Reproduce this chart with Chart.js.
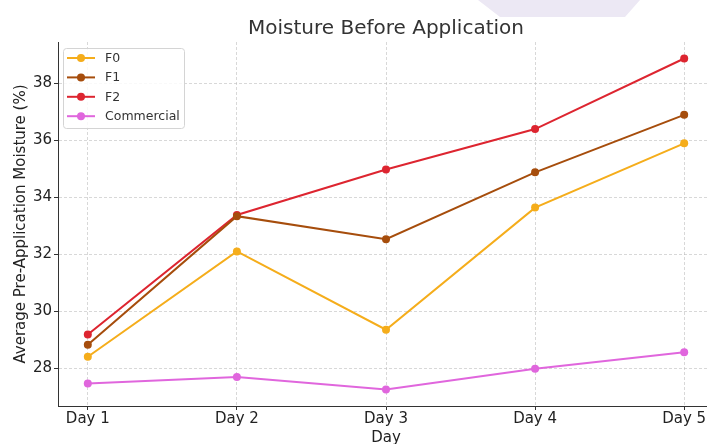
<!DOCTYPE html>
<html><head><meta charset="utf-8">
<script src="https://cdn.jsdelivr.net/npm/chart.js@4.4.0/dist/chart.umd.min.js"></script>
<style>
html,body{margin:0;padding:0;background:#fff;overflow:hidden;width:707px;height:444px;}
#wrap{position:relative;width:772px;height:444px;}
#deco{position:absolute;left:0;top:0;width:772px;height:20px;background:#ece8f4;clip-path:polygon(478px 0,640px 0,625px 17px,500px 17px);}
canvas{position:absolute;left:0;top:0;}
</style></head><body>
<div id="wrap"><div id="deco"></div><canvas id="c" width="772" height="444"></canvas></div>
<script>
const categories = ['Day 1','Day 2','Day 3','Day 4','Day 5'];
const seriesNames = ['F0','F1','F2','Commercial'];
const f0 = [28.40, 32.10, 29.35, 33.64, 35.90];
const f1 = [28.82, 33.34, 32.53, 34.88, 36.90];
const f2 = [29.18, 33.38, 34.98, 36.40, 38.88];
const commercial = [27.46, 27.69, 27.25, 27.98, 28.56];
const yTicks = [28, 30, 32, 34, 36, 38];
const colors = ['#f5ad1b', '#a64d0c', '#dd2530', '#e066dd'];

const seriesValues = [f0, f1, f2, commercial];
const FONT = "'DejaVu Sans', sans-serif";
Chart.defaults.font.family = FONT;

const datasets = seriesValues.map((vals, i) => ({
  label: seriesNames[i],
  data: vals.map((v, k) => ({x: k, y: v})),
  borderColor: colors[i],
  backgroundColor: colors[i],
  borderWidth: 2,
  pointRadius: 4,
  pointHoverRadius: 4,
  pointBorderWidth: 0,
  tension: 0
}));

const legendPlugin = {
  id: 'mplLegend',
  afterDatasetsDraw(chart) {
    const ctx = chart.ctx;
    const a = chart.chartArea;
    const bx = a.left + 5, by = a.top + 6, bw = 121, bh = 80;
    ctx.save();
    ctx.beginPath();
    ctx.roundRect(bx + 0.5, by + 0.5, bw, bh, 3);
    ctx.fillStyle = 'rgba(255,255,255,0.85)';
    ctx.fill();
    ctx.strokeStyle = '#d4d4d4';
    ctx.lineWidth = 1;
    ctx.stroke();
    ctx.font = '12.5px ' + FONT;
    ctx.textBaseline = 'middle';
    ctx.textAlign = 'left';
    chart.data.datasets.forEach((ds, i) => {
      const y = by + 10 + i * 19.4;
      ctx.strokeStyle = ds.borderColor;
      ctx.lineWidth = 2;
      ctx.beginPath();
      ctx.moveTo(bx + 4, y);
      ctx.lineTo(bx + 32, y);
      ctx.stroke();
      ctx.fillStyle = ds.borderColor;
      ctx.beginPath();
      ctx.arc(bx + 18, y, 4, 0, Math.PI * 2);
      ctx.fill();
      ctx.fillStyle = '#333';
      ctx.fillText(ds.label, bx + 42, y + 0.5);
    });
    ctx.restore();
  }
};

const gridCommon = {
  color: 'rgba(185,185,185,0.7)',
  lineWidth: 0.8,
  tickColor: '#333',
  tickWidth: 1,
  tickLength: 4,
  tickBorderDash: [],
  drawTicks: true
};

new Chart(document.getElementById('c'), {
  type: 'line',
  data: { datasets },
  plugins: [legendPlugin],
  options: {
    responsive: false,
    animation: false,
    devicePixelRatio: 1,
    layout: { padding: { left: 0, right: 58, top: 0, bottom: 0 } },
    plugins: {
      legend: { display: false },
      tooltip: { enabled: false },
      title: {
        display: true,
        fullSize: false,
        text: 'Moisture Before Application',
        color: '#333',
        font: { size: 20, weight: 'normal', family: FONT, lineHeight: 1.2 },
        padding: { top: 17, bottom: 1 }
      }
    },
    scales: {
      x: {
        type: 'linear',
        min: -0.2,
        max: 4.2,
        afterBuildTicks: s => { s.ticks = categories.map((c, i) => ({value: i})); },
        afterFit: s => { s.height = 38; },
        ticks: {
          callback: v => categories[v],
          color: '#222',
          font: { size: 15 },
          padding: 0,
          maxRotation: 0,
          autoSkip: false
        },
        grid: Object.assign({}, gridCommon),
        border: { display: true, color: '#333', width: 1, dash: [3, 2] },
        title: {
          display: true,
          text: 'Day',
          color: '#222',
          font: { size: 15, lineHeight: 0.85 },
          padding: { top: 0, bottom: 0 }
        }
      },
      y: {
        type: 'linear',
        min: 26.668,
        max: 39.46,
        afterBuildTicks: s => { s.ticks = yTicks.map(v => ({value: v})); },
        afterFit: s => { s.width = 58; },
        ticks: {
          color: '#222',
          font: { size: 15 },
          padding: 2
        },
        grid: Object.assign({}, gridCommon),
        border: { display: true, color: '#333', width: 1, dash: [3, 2] },
        title: {
          display: true,
          text: 'Average Pre-Application Moisture (%)',
          color: '#222',
          font: { size: 15, lineHeight: 1.2 },
          padding: { top: 12, bottom: 0 }
        }
      }
    }
  }
});
</script>
</body></html>
